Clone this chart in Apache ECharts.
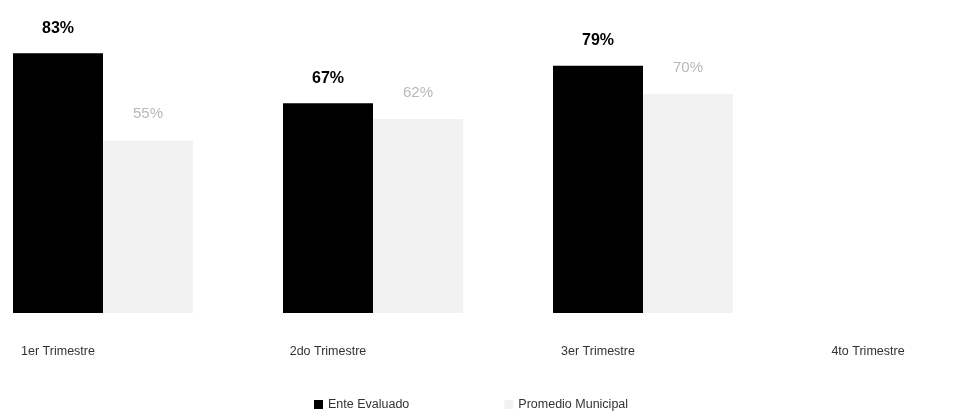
<!DOCTYPE html>
<html>
<head>
<meta charset="utf-8">
<script src="https://cdn.jsdelivr.net/npm/echarts@6/dist/echarts.min.js"></script>
<style>
html,body{margin:0;padding:0;background:#fff;overflow:hidden;width:976px;height:419px;}
#chart{width:1080px;height:419px;margin-left:-77px;}
</style>
</head>
<body>
<div id="chart"></div>
<script>
const categories = ['1er Trimestre', '2do Trimestre', '3er Trimestre', '4to Trimestre'];
const enteEvaluado = [83, 67, 79, null];
const promedioMunicipal = [55, 62, 70, null];
const seriesNames = ['Ente Evaluado', 'Promedio Municipal'];

const chart = echarts.init(document.getElementById('chart'));
const font = 'Liberation Sans, Arial, sans-serif';
chart.setOption({
  animation: false,
  backgroundColor: '#ffffff',
  grid: { left: 0, right: 0, top: -2, bottom: 106, containLabel: false },
  legend: {
    data: seriesNames,
    bottom: 3,
    left: 386,
    itemWidth: 9,
    itemHeight: 9,
    itemGap: 95,
    icon: 'rect',
    textStyle: { fontFamily: font, fontSize: 12.5, color: '#333333' }
  },
  xAxis: {
    type: 'category',
    data: categories,
    axisLine: { show: false },
    axisTick: { show: false },
    axisLabel: { fontFamily: font, fontSize: 12.5, color: '#333333', margin: 32 }
  },
  yAxis: {
    type: 'value',
    min: 0,
    max: 100,
    show: false,
    splitLine: { show: false }
  },
  series: [
    {
      name: 'spacer',
      type: 'bar',
      data: categories.map(() => null),
      barWidth: 90,
      barGap: '0%',
      itemStyle: { color: 'transparent' },
      silent: true
    },
    {
      name: seriesNames[0],
      type: 'bar',
      data: enteEvaluado,
      barWidth: 90,
      barGap: '0%',
      itemStyle: { color: '#000000' },
      label: {
        show: true,
        position: 'top',
        distance: 17,
        formatter: p => p.value == null ? '' : p.value + '%',
        fontFamily: font,
        fontSize: 16,
        fontWeight: 'bold',
        color: '#000000'
      }
    },
    {
      name: seriesNames[1],
      type: 'bar',
      data: promedioMunicipal,
      barWidth: 90,
      barGap: '0%',
      itemStyle: { color: '#f2f2f2' },
      label: {
        show: true,
        position: 'top',
        distance: 19,
        formatter: p => p.value == null ? '' : p.value + '%',
        fontFamily: font,
        fontSize: 15,
        color: '#b8b8b8'
      }
    }
  ]
});
</script>
</body>
</html>
